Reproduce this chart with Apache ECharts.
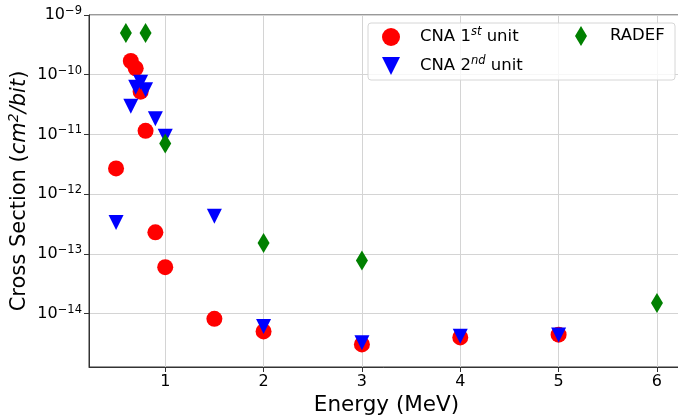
<!DOCTYPE html>
<html>
<head>
<meta charset="utf-8">
<script src="https://cdn.jsdelivr.net/npm/echarts@6/dist/echarts.min.js"></script>
<style>
html, body { margin: 0; padding: 0; background: #fff; }
#main { width: 678px; height: 417px; }
</style>
</head>
<body>
<div id="main"></div>
<script>
// 数据
var energyCna1 = [0.5, 0.65, 0.7, 0.75, 0.8, 0.9, 1, 1.5, 2, 3, 4, 5];
var xsCna1 = [2.7e-12, 1.7e-10, 1.28e-10, 5.2e-11, 1.15e-11, 2.3e-13, 6.0e-14, 8.2e-15, 5.05e-15, 3.06e-15, 4.0e-15, 4.45e-15];

var energyCna2 = [0.5, 0.65, 0.7, 0.75, 0.8, 0.9, 1, 1.5, 2, 3, 4, 5];
var xsCna2 = [3.35e-13, 2.96e-11, 6.2e-11, 7.5e-11, 5.6e-11, 1.84e-11, 9.3e-12, 4.27e-13, 6.1e-15, 3.27e-15, 4.2e-15, 4.4e-15];

var energyRadef = [0.6, 0.8, 1, 2, 3, 6];
var xsRadef = [5.0e-10, 5.0e-10, 7.06e-12, 1.53e-13, 7.8e-14, 1.51e-14];

var seriesNames = ['CNA 1st unit', 'CNA 2nd unit', 'RADEF'];

function pairs(xs, ys) {
    return xs.map(function (x, i) { return [x, ys[i]]; });
}

var FONT = 'DejaVu Sans';
var TRI_DOWN = 'path://M0,0 L2,0 L1,2 Z';
var THIN_DIAMOND = 'path://M3,0 L6,5 L3,10 L0,5 Z';

var legendRich = {
    t: { fontFamily: FONT, fontSize: 16.5, color: '#000', lineHeight: 22 },
    s: { fontFamily: FONT, fontSize: 11.5, fontStyle: 'italic', color: '#000', lineHeight: 12, verticalAlign: 'top' }
};

function legendText(name) {
    if (name === 'CNA 1st unit') return '{t|CNA 1}{s|st}{t| unit}';
    if (name === 'CNA 2nd unit') return '{t|CNA 2}{s|nd}{t| unit}';
    return '{t|' + name + '}';
}

(function () {
    var chart = echarts.init(document.getElementById('main'));

    var option = {
        backgroundColor: '#fff',
        animation: false,
        grid: {
            left: 89, right: -6, top: 15, bottom: 50,
            outerBoundsMode: 'none',
            show: true, borderColor: '#333', borderWidth: 1,
            containLabel: false
        },
        graphic: [{
            type: 'rect',
            z: 3,
            shape: { x: 368, y: 23, width: 307, height: 57, r: 3 },
            style: { fill: 'rgba(255,255,255,0.8)', stroke: '#d6d6d6', lineWidth: 1 }
        }],
        legend: [{
            orient: 'vertical',
            left: 382, top: 26,
            padding: 0,
            itemWidth: 48, itemHeight: 18, itemGap: 9,
            symbolKeepAspect: true,
            z: 5,
            data: [
                { name: seriesNames[0], icon: 'circle' },
                { name: seriesNames[1], icon: TRI_DOWN }
            ],
            formatter: legendText,
            textStyle: { rich: legendRich }
        }, {
            orient: 'vertical',
            left: 575, top: 26,
            padding: 0,
            itemWidth: 48, itemHeight: 20,
            symbolKeepAspect: true,
            z: 5,
            data: [{ name: seriesNames[2], icon: THIN_DIAMOND }],
            formatter: legendText,
            textStyle: { rich: legendRich }
        }],
        xAxis: {
            type: 'value',
            min: 0.225, max: 6.275,
            splitNumber: 6,
            name: 'Energy (MeV)',
            nameLocation: 'middle',
            nameGap: 19,
            nameTextStyle: { fontFamily: FONT, fontSize: 21.5, color: '#000' },
            axisLine: { show: true, onZero: false, lineStyle: { color: '#333' } },
            axisTick: { show: true, length: 5, lineStyle: { color: '#333' } },
            axisLabel: {
                showMinLabel: false, showMaxLabel: false,
                margin: 7, fontFamily: FONT, fontSize: 16, color: '#000'
            },
            splitLine: { show: true, lineStyle: { color: '#d4d4d4' } }
        },
        yAxis: {
            type: 'log', logBase: 10,
            min: 1.28e-15, max: 1e-9,
            name: '{a|Cross Section (}{i|cm}{s|2}{i|/bit}{a|)}',
            nameLocation: 'middle',
            nameGap: 56,
            nameMoveOverlap: false,
            nameRotate: 90,
            nameTextStyle: {
                rich: {
                    a: { fontFamily: FONT, fontSize: 21, color: '#000', lineHeight: 26 },
                    i: { fontFamily: FONT, fontSize: 21, fontStyle: 'italic', color: '#000', lineHeight: 26 },
                    s: { fontFamily: FONT, fontSize: 14, fontStyle: 'italic', color: '#000', lineHeight: 14, verticalAlign: 'top' }
                }
            },
            axisLine: { show: true, lineStyle: { color: '#333' } },
            axisTick: { show: true, length: 5, lineStyle: { color: '#333' } },
            axisLabel: {
                showMinLabel: false,
                margin: 7,
                formatter: function (v) {
                    var e = Math.round(Math.log10(v));
                    return '{b|10}{e|' + (e < 0 ? '\u2212' + (-e) : e) + '}';
                },
                rich: {
                    b: { fontFamily: FONT, fontSize: 16, color: '#000', lineHeight: 20 },
                    e: { fontFamily: FONT, fontSize: 11.5, color: '#000', lineHeight: 11, verticalAlign: 'top' }
                }
            },
            splitLine: { show: true, lineStyle: { color: '#d4d4d4' } }
        },
        series: [{
            name: seriesNames[0],
            type: 'scatter',
            symbol: 'circle',
            symbolSize: 16,
            itemStyle: { color: '#ff0000', opacity: 1 },
            data: pairs(energyCna1, xsCna1)
        }, {
            name: seriesNames[1],
            type: 'scatter',
            symbol: TRI_DOWN,
            symbolSize: 15,
            itemStyle: { color: '#0000ff', opacity: 1 },
            data: pairs(energyCna2, xsCna2)
        }, {
            name: seriesNames[2],
            type: 'scatter',
            symbol: THIN_DIAMOND,
            symbolSize: [12, 20],
            itemStyle: { color: '#008000', opacity: 1 },
            data: pairs(energyRadef, xsRadef)
        }]
    };

    chart.setOption(option);
})();
</script>
</body>
</html>
